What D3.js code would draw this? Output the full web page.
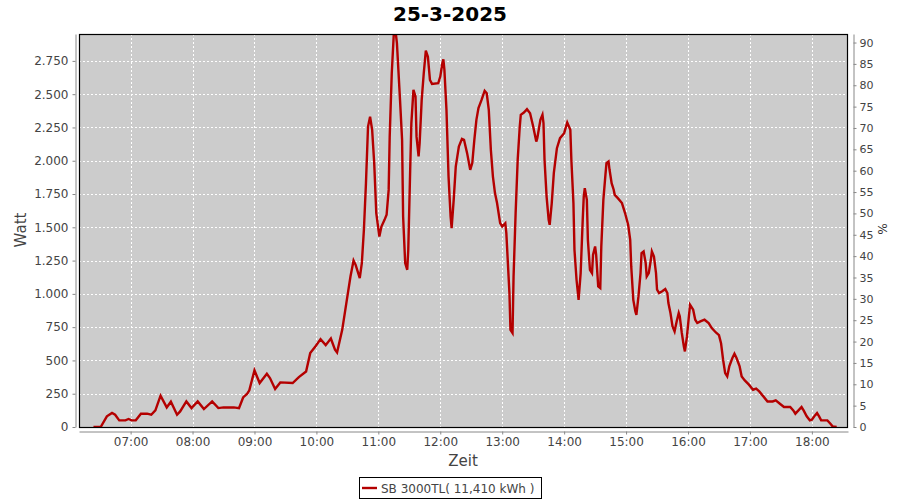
<!DOCTYPE html>
<html><head><meta charset="utf-8">
<script src="https://cdn.jsdelivr.net/npm/d3@7"></script>
<style>body{margin:0;background:#fff;}svg{display:block;font-family:"DejaVu Sans",sans-serif;}</style>
</head><body>
<svg id="c" width="900" height="500"></svg>
<script>
const titleText = "25-3-2025";
const seriesName = "SB 3000TL( 11,410 kWh )";
const times = ["06:24","06:31","06:37","06:42","06:45","06:49","06:55","06:58","07:01","07:05","07:10","07:16","07:20","07:24","07:29","07:35","07:39","07:45","07:48","07:54","07:59","08:05","08:11","08:19","08:25","08:30","08:40","08:45","08:49","08:53","08:55","09:00","09:05","09:12","09:15","09:20","09:25","09:37","09:43","09:50","09:54","09:59","10:04","10:09","10:14","10:18","10:20","10:25","10:29","10:33","10:36","10:38","10:42","10:44","10:46","10:48","10:50","10:52","10:54","10:56","10:58","11:01","11:03","11:06","11:08","11:10","11:11","11:13","11:15","11:16","11:18","11:21","11:23","11:24","11:26","11:28","11:29","11:31","11:32","11:34","11:36","11:37","11:39","11:40","11:42","11:44","11:46","11:48","11:50","11:52","11:58","12:00","12:02","12:03","12:04","12:06","12:08","12:10","12:11","12:13","12:15","12:18","12:21","12:23","12:26","12:29","12:31","12:33","12:35","12:37","12:40","12:43","12:45","12:47","12:49","12:51","12:53","12:55","12:58","13:00","13:03","13:04","13:07","13:08","13:10","13:11","13:13","13:15","13:17","13:18","13:21","13:24","13:27","13:30","13:33","13:34","13:37","13:39","13:40","13:41","13:43","13:45","13:46","13:48","13:50","13:53","13:56","14:00","14:03","14:06","14:07","14:09","14:10","14:12","14:14","14:16","14:18","14:19","14:20","14:22","14:23","14:25","14:27","14:28","14:30","14:31","14:33","14:35","14:36","14:38","14:40","14:41","14:43","14:44","14:46","14:48","14:49","14:52","14:56","14:59","15:02","15:04","15:05","15:07","15:09","15:10","15:12","15:14","15:15","15:17","15:19","15:20","15:22","15:24","15:25","15:27","15:29","15:30","15:32","15:35","15:38","15:40","15:41","15:43","15:45","15:47","15:49","15:51","15:52","15:54","15:56","15:57","15:59","16:01","16:02","16:05","16:07","16:09","16:12","16:16","16:20","16:23","16:27","16:30","16:32","16:34","16:36","16:38","16:40","16:43","16:45","16:47","16:50","16:52","16:55","16:59","17:03","17:06","17:09","17:13","17:17","17:22","17:25","17:29","17:33","17:39","17:42","17:44","17:47","17:50","17:52","17:55","17:58","18:00","18:03","18:05","18:07","18:09","18:15","18:18","18:20","18:24"];
const watts = [0,0,80,105,92,50,50,60,50,50,100,100,92,125,235,147,190,92,117,192,142,192,135,192,142,147,147,142,222,250,275,425,330,400,368,285,335,330,375,417,555,605,660,615,665,580,560,730,930,1130,1250,1218,1118,1230,1480,1830,2257,2330,2232,1982,1607,1430,1506,1556,1594,1781,2181,2657,2957,3020,2883,2457,2157,1581,1231,1181,1331,1982,2282,2532,2482,2181,2032,2132,2457,2657,2827,2782,2607,2577,2582,2632,2732,2762,2682,2382,1881,1581,1494,1706,1956,2107,2164,2157,2057,1932,1982,2157,2307,2395,2457,2525,2507,2382,2082,1881,1757,1682,1531,1506,1531,1456,1006,730,706,1131,1607,2007,2257,2345,2362,2387,2357,2257,2144,2170,2307,2345,2282,2007,1731,1556,1519,1682,1907,2094,2170,2207,2287,2232,2007,1682,1331,1106,955,1156,1556,1731,1794,1706,1406,1181,1156,1294,1356,1294,1056,1044,1356,1706,1894,1982,1994,1932,1832,1782,1744,1719,1682,1607,1519,1406,1206,955,868,843,981,1156,1306,1319,1231,1131,1156,1256,1319,1281,1156,1031,1006,1019,1036,1006,931,856,755,718,793,856,831,706,605,568,680,843,918,881,806,781,793,806,781,743,710,690,630,505,405,380,455,518,550,518,455,380,350,318,280,288,267,230,192,192,200,175,150,150,125,100,125,150,125,80,50,55,87,105,80,50,50,25,5,0];
const wattTicks = [0,250,500,750,1000,1250,1500,1750,2000,2250,2500,2750];
const pctTicks = [0,5,10,15,20,25,30,35,40,45,50,55,60,65,70,75,80,85,90];
const hourTicks = ["07:00","08:00","09:00","10:00","11:00","12:00","13:00","14:00","15:00","16:00","17:00","18:00"];
const xDomain = ["06:10","18:35"];
const wattMax = 2952, pctMax = 92;

const parse = d3.timeParse("%H:%M");
const data = times.map((t,i)=>({t:parse(t), v:watts[i]}));
const svg = d3.select("#c");
const L=79, R=848, T=34, B=427;
const x = d3.scaleTime().domain(xDomain.map(parse)).range([L,R]);
const y = d3.scaleLinear().domain([0,wattMax]).range([B,T]);
const y2 = d3.scaleLinear().domain([0,pctMax]).range([B,T]);

svg.append("text").attr("x",450).attr("y",21).attr("text-anchor","middle")
  .attr("font-size",20).attr("font-weight","bold").attr("fill","#000").text(titleText);

svg.append("rect").attr("x",L).attr("y",T).attr("width",R-L).attr("height",B-T).attr("fill","#cccccc");
const grid = svg.append("g").attr("stroke","#fff").attr("stroke-dasharray","2,2").attr("stroke-width",1);
wattTicks.forEach(v=>grid.append("line").attr("x1",L).attr("x2",R).attr("y1",Math.round(y(v))+0.5).attr("y2",Math.round(y(v))+0.5));
hourTicks.forEach(h=>grid.append("line").attr("y1",T).attr("y2",B).attr("x1",Math.round(x(parse(h)))+0.5).attr("x2",Math.round(x(parse(h)))+0.5));

svg.append("clipPath").attr("id","clip").append("rect").attr("x",L).attr("y",T).attr("width",R-L).attr("height",B-T);
svg.append("path").datum(data).attr("clip-path","url(#clip)")
  .attr("fill","none").attr("stroke","#b40000").attr("stroke-width",2.4).attr("stroke-linejoin","miter")
  .attr("d",d3.line().x(d=>x(d.t)).y(d=>y(d.v)));
svg.append("rect").attr("x",L+0.5).attr("y",T+0.5).attr("width",R-L-1).attr("height",B-T).attr("fill","none").attr("stroke","#000").attr("stroke-width",1.2);

function styleAxis(g,fs){
  g.select(".domain").attr("stroke","#888");
  g.selectAll(".tick line").attr("stroke","#888");
  g.selectAll(".tick text").attr("fill","#444").attr("font-size",fs).attr("font-family","DejaVu Sans");
}
const yAxis = svg.append("g").attr("transform","translate(75.5,0)")
  .call(d3.axisLeft(y).tickValues(wattTicks).tickSize(3).tickSizeOuter(0).tickPadding(4)
  .tickFormat(d=>d3.format(",")(d).replace(/,/g,".")));
styleAxis(yAxis,12);
const y2Axis = svg.append("g").attr("transform","translate(853.5,0)")
  .call(d3.axisRight(y2).tickValues(pctTicks).tickSize(3).tickSizeOuter(0).tickPadding(3));
styleAxis(y2Axis,11);
const xAxis = svg.append("g").attr("transform","translate(0,431.5)")
  .call(d3.axisBottom(x).tickValues(hourTicks.map(parse)).tickSize(3).tickSizeOuter(0).tickPadding(3)
  .tickFormat(d3.timeFormat("%H:%M")));
styleAxis(xAxis,12);

svg.append("text").attr("transform","translate(26,230) rotate(-90)").attr("text-anchor","middle")
  .attr("font-size",15).attr("fill","#444").text("Watt");
svg.append("text").attr("x",463).attr("y",466).attr("text-anchor","middle")
  .attr("font-size",15).attr("fill","#444").text("Zeit");
svg.append("text").attr("transform","translate(878,229) rotate(90)").attr("text-anchor","middle")
  .attr("font-size",12).attr("fill","#333").text("%");

const lg = svg.append("g");
lg.append("rect").attr("x",359.5).attr("y",477.5).attr("width",182).attr("height",21).attr("fill","#fff").attr("stroke","#000");
lg.append("line").attr("x1",362).attr("x2",377).attr("y1",488).attr("y2",488).attr("stroke","#b40000").attr("stroke-width",2.4);
lg.append("text").attr("x",381).attr("y",492.5).attr("font-size",12).attr("fill","#444").text(seriesName);
</script>
</body></html>
